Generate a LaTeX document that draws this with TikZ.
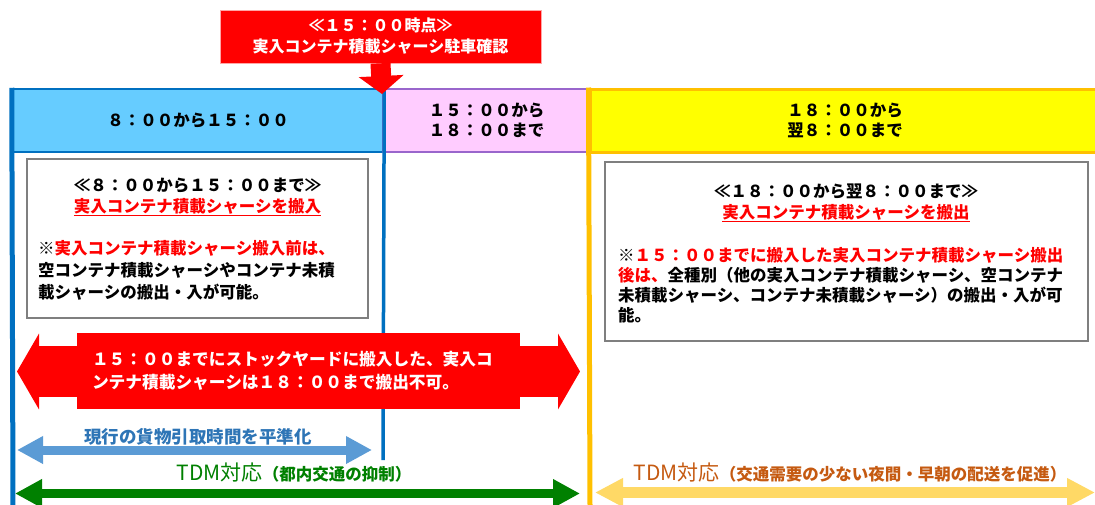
\documentclass[tikz,border=0pt]{standalone}
\usepackage{fontspec}
\setmainfont{Noto Sans CJK JP}
\usepackage{xcolor}
\usetikzlibrary{arrows.meta}
\definecolor{hdrBlue}{HTML}{66CCFF}
\definecolor{lineBlue}{HTML}{0070C0}
\definecolor{hdrPink}{HTML}{FFCCFF}
\definecolor{linePurple}{HTML}{9966CC}
\definecolor{hdrYellow}{HTML}{FFFF00}
\definecolor{lineOrange}{HTML}{FFC000}
\definecolor{arrowBlue}{HTML}{5B9BD5}
\definecolor{textBlue}{HTML}{2E75B6}
\definecolor{tdmGreen}{HTML}{008000}
\definecolor{arrowYellow}{HTML}{FFD966}
\definecolor{textOrange}{HTML}{C55A11}
\definecolor{boxGray}{HTML}{7F7F7F}
\tikzset{%
  timeHeader/.style={rectangle, line width=2.5pt, inner sep=0pt, minimum height=63pt, align=center, font=\bfseries\fontsize{16.5}{20.5}\selectfont},
  %
  noteBox/.style={rectangle, draw=boxGray, line width=1.5pt, fill=white, inner sep=0pt},% text frames
  noteText/.style={inner sep=0pt, font=\bfseries\fontsize{16.5}{21}\selectfont},
  %
  redBanner/.style={rectangle, fill=red, draw=red!35, line width=0.6pt, inner sep=0pt, text=white, align=center, font=\bfseries\fontsize{16}{21}\selectfont},
  redBox/.style={rectangle, fill=red, inner sep=0pt, text=white, align=left, font=\bfseries\fontsize{16.7}{23}\selectfont},
  % ---
  % wide arrows
  % ---
  redArrow/.style={red, line width=51pt, {Triangle[width=75pt,length=22pt]}-{Triangle[width=75pt,length=22pt]}},
  blueArrow/.style={arrowBlue, line width=9pt, {Triangle[width=26pt,length=26pt]}-{Triangle[width=26pt,length=26pt]}},
  greenArrow/.style={tdmGreen, line width=9pt, {Triangle[width=27pt,length=27pt]}-{Triangle[width=27pt,length=27pt]}},
  yellowArrow/.style={arrowYellow, line width=11pt, {Triangle[width=27pt,length=28pt]}-{Triangle[width=27pt,length=28pt]}},
  downArrow/.style={red, line width=20pt, -{Triangle[width=44pt,length=18pt]}},
  %
  arrowLabel/.style={inner sep=0pt, font=\fontsize{16.5}{20}\selectfont},
  tdmLabel/.style={inner sep=0pt, font=\bfseries\fontsize{16.5}{20}\selectfont}}

\begin{document}
\begin{tikzpicture}[x=1pt,y=-1pt]
        \useasboundingbox (0,0) rectangle (1095,504);

        %Nodes
        \node[redBanner, minimum width=321pt, minimum height=53pt] (checkNote) at (380.5,36.5) {≪１５：００時点≫\\実入コンテナ積載シャーシ駐車確認};
        \coordinate (checkTip) at (382,94);

        \node[timeHeader, draw=lineBlue, fill=hdrBlue, minimum width=370pt] (amHeader) at (198,120.5) {８：００から１５：００};
        \node[timeHeader, draw=linePurple, line width=2pt, fill=hdrPink, minimum width=207pt] (pmHeader) at (486.5,120.5) {１５：００から\\１８：００まで};
        \node[timeHeader, draw=lineOrange, line width=3pt, fill=hdrYellow, minimum width=510pt] (nightHeader) at (845,120.5) {１８：００から\\翌８：００まで};

        \coordinate (amLeftEnd) at (13,506);
        \coordinate (amRightEnd) at (383,460);
        \coordinate (nightLeftEnd) at (590,506);

        \node[noteBox, minimum width=341pt, minimum height=159pt] (amBox) at (197.5,238.5) {};
        \node[noteText, align=center] (amTitle) at (197.5,197) {≪８：００から１５：００まで≫\\\textcolor{red}{\underline{実入コンテナ積載シャーシを搬入}}};
        \node[noteText, align=left, anchor=west, font=\bfseries\fontsize{16.5}{22}\selectfont] (amText) at (38,270) {※\textcolor{red}{実入コンテナ積載シャーシ搬入前は、}\\空コンテナ積載シャーシやコンテナ未積\\載シャーシの搬出・入が可能。};

        \node[noteBox, minimum width=483pt, minimum height=179pt] (nightBox) at (846.5,251.5) {};
        \node[noteText, align=center] (nightTitle) at (846,203) {≪１８：００から翌８：００まで≫\\\textcolor{red}{\underline{実入コンテナ積載シャーシを搬出}}};
        \node[noteText, align=left, anchor=west, font=\bfseries\fontsize{16.5}{20}\selectfont] (nightText) at (618,285) {※\textcolor{red}{１５：００までに搬入した実入コンテナ積載シャーシ搬出}\\\textcolor{red}{後は、}全種別（他の実入コンテナ積載シャーシ、空コンテナ\\未積載シャーシ、コンテナ未積載シャーシ）の搬出・入が可\\能。};

        \coordinate (stockLeft) at (17,371.5);
        \coordinate (stockRight) at (580,371.5);
        \coordinate (levelLeft) at (17,450);
        \coordinate (levelRight) at (372,450);
        \coordinate (tdmLeft) at (15,493.5);
        \coordinate (tdmRight) at (580,493.5);
        \coordinate (nightLeft) at (595,492.5);
        \coordinate (nightRight) at (1095,492.5);

        %Lines
        \draw[lineBlue, line width=5pt] (amHeader.north west) -- (amLeftEnd);
        \draw[lineBlue, line width=3.5pt] (amHeader.north east) -- (amRightEnd);
        \draw[lineOrange, line width=5pt] (nightHeader.north west) -- (nightLeftEnd);
        \draw[downArrow] (checkNote.south) -- (checkTip);

        \draw[redArrow] (stockLeft) -- (stockRight);
        \node[redBox, minimum width=443pt, minimum height=76pt, text width=413pt] (stockNote) at (298.5,371) {１５：００までにストックヤードに搬入した、実入コ\\ンテナ積載シャーシは１８：００まで搬出不可。};

        \draw[blueArrow] (levelLeft) -- (levelRight);
        \node[arrowLabel, text=textBlue, font=\bfseries\fontsize{17.5}{20}\selectfont] (levelLabel) at (198,437) {現行の貨物引取時間を平準化};

        \draw[greenArrow] (tdmLeft) -- (tdmRight);
        \node[tdmLabel, text=tdmGreen] (tdmLabel) at (294,473) {{\mdseries\fontsize{21}{21}\selectfont TDM対応}（都内交通の抑制）};

        \draw[yellowArrow] (nightLeft) -- (nightRight);
        \node[tdmLabel, text=textOrange] (nightLabel) at (850,473) {{\mdseries\fontsize{21}{21}\selectfont TDM対応}（交通需要の少ない夜間・早朝の配送を促進）};
\end{tikzpicture}
\end{document}
